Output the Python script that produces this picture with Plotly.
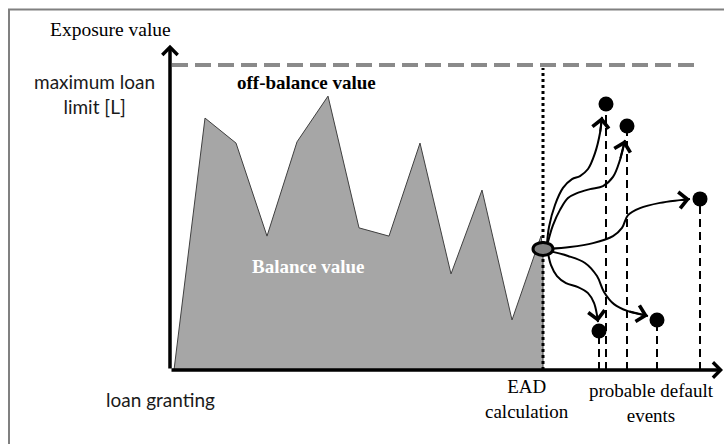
import plotly.graph_objects as go

# ---------------- data (time in arbitrary units, exposure in % of loan limit L) ----------------
balance_t = [0.4, 3.5, 6.6, 9.7, 12.7, 15.8, 18.9, 21.9, 25.0, 28.1, 31.2, 34.2, 37.1, 37.3, 37.3]
balance_v = [0, 82.6, 74.4, 43.9, 74.8, 89.8, 46.6, 43.9, 74.4, 31.5, 59.0, 16.4, 43.9, 39.3, 0]

limit_value = 100
limit_t = [0.2, 52.7]

ead_t = 37.3
ead_v = 39.7
ead_top = 99

event_t = [43.6, 45.7, 53.0, 42.9, 48.7]
event_v = [87.2, 80.0, 56.1, 12.8, 16.4]

path_a_t = [37.7, 37.9, 38.5, 39.3, 40.2, 41.0, 41.8, 42.5, 43.0, 43.2]
path_a_v = [41.3, 46.9, 54.1, 59.7, 62.6, 63.6, 65.9, 71.1, 77.7, 83.0]
path_b_t = [37.8, 38.3, 39.0, 39.8, 40.7, 42.0, 43.3, 44.3, 45.0, 45.5]
path_b_v = [42.0, 47.5, 52.5, 56.4, 58.0, 59.3, 60.3, 63.3, 68.9, 75.4]
path_c_t = [37.9, 40.0, 42.3, 44.3, 45.2, 45.8, 47.0, 49.0, 51.0, 52.0]
path_c_v = [39.7, 40.3, 41.6, 43.9, 46.6, 50.8, 53.1, 54.8, 55.7, 56.1]
path_d_t = [37.8, 38.1, 38.7, 39.6, 40.8, 41.8, 42.4, 42.7, 42.8]
path_d_v = [38.4, 34.4, 30.8, 28.5, 27.2, 25.2, 22.0, 18.0, 15.7]
path_e_t = [37.9, 39.8, 41.5, 42.7, 43.4, 44.4, 45.8, 47.8]
path_e_v = [39.0, 37.4, 35.1, 30.8, 25.6, 21.6, 19.3, 17.7]

paths = [(path_a_t, path_a_v), (path_b_t, path_b_v), (path_c_t, path_c_v),
         (path_d_t, path_d_v), (path_e_t, path_e_v)]

x_axis_end = 55.3
y_axis_end = 106.6

# ---------------- figure ----------------
fig = go.Figure()

# balance value area
fig.add_trace(go.Scatter(x=balance_t, y=balance_v, mode="lines", fill="toself",
                         fillcolor="#a6a6a6", line=dict(color="#404040", width=1),
                         hoverinfo="skip", showlegend=False))

# loan limit (off-balance) dashed line
fig.add_trace(go.Scatter(x=limit_t, y=[limit_value, limit_value], mode="lines",
                         line=dict(color="#8a8a8a", width=4, dash="16px,7px"),
                         hoverinfo="skip", showlegend=False))

# EAD dotted vertical
fig.add_trace(go.Scatter(x=[ead_t, ead_t], y=[0, ead_top], mode="lines",
                         line=dict(color="black", width=3, dash="dot"),
                         hoverinfo="skip", showlegend=False))

# dashed drops from default events
for t, v in zip(event_t, event_v):
    fig.add_trace(go.Scatter(x=[t, t], y=[0, v], mode="lines",
                             line=dict(color="black", width=2, dash="8px,5px"),
                             hoverinfo="skip", showlegend=False))

# curved paths
for pt, pv in paths:
    fig.add_trace(go.Scatter(x=pt, y=pv, mode="lines",
                             line=dict(color="black", width=2, shape="spline", smoothing=1),
                             hoverinfo="skip", showlegend=False))

# default event points
fig.add_trace(go.Scatter(x=event_t, y=event_v, mode="markers",
                         marker=dict(color="black", size=15),
                         hoverinfo="skip", showlegend=False))

annotations = []
# arrowheads of the curved paths
for pt, pv in paths:
    annotations.append(dict(x=pt[-1], y=pv[-1], ax=pt[-2], ay=pv[-2], axref="x", ayref="y",
                            xref="x", yref="y", text="", showarrow=True, arrowhead=4,
                            arrowwidth=2, arrowsize=1.6, arrowcolor="black"))
# axes with arrows
annotations.append(dict(x=0, y=y_axis_end, ax=0, ay=0, axref="x", ayref="y", xref="x", yref="y",
                        text="", showarrow=True, arrowhead=4, arrowwidth=3.5, arrowsize=0.85,
                        arrowcolor="black"))
annotations.append(dict(x=x_axis_end, y=0, ax=0, ay=0, axref="x", ayref="y", xref="x", yref="y",
                        text="", showarrow=True, arrowhead=4, arrowwidth=3.5, arrowsize=0.85,
                        arrowcolor="black"))

serif = "Liberation Serif, Times New Roman, serif"
sans = "Lato, Calibri, sans-serif"

def label(x, y, text, family, size, color="black", bold=False):
    if bold:
        text = "<b>" + text + "</b>"
    annotations.append(dict(x=x, y=y, xref="x", yref="y", text=text, showarrow=False,
                            xanchor="center", yanchor="middle", align="center",
                            font=dict(family=family, size=size, color=color)))

label(-6.0, 111.5, "Exposure value", serif, 19.5)
label(-7.6, 90.5, "maximum loan<br>limit [L]", sans, 19, color="#1a1a1a")
label(-1.0, -9.8, "loan granting", sans, 19, color="#1a1a1a")
label(13.6, 94.1, "off-balance value", serif, 19, bold=True)
label(13.8, 33.8, "Balance value", serif, 19, color="white", bold=True)
label(35.7, -9.5, "EAD<br>calculation", serif, 19)
label(48.1, -10.8, "probable default<br>events", serif, 19)

shapes = [
    dict(type="circle", xref="x", yref="y", xsizemode="pixel", ysizemode="pixel",
         xanchor=ead_t, yanchor=ead_v, x0=-10, x1=10, y0=-6.5, y1=6.5,
         fillcolor="#808080", line=dict(color="black", width=3), layer="above"),
    dict(type="rect", xref="paper", yref="paper", x0=9 / 724, x1=1.02, y0=-0.02, y1=1 - 9.5 / 444,
         line=dict(color="#808080", width=2), fillcolor="rgba(0,0,0,0)", layer="below"),
]

fig.update_layout(
    width=724, height=444,
    margin=dict(l=0, r=0, t=0, b=0),
    paper_bgcolor="white", plot_bgcolor="white",
    xaxis=dict(range=[-17, 55.4], visible=False, fixedrange=True),
    yaxis=dict(range=[-24.26, 121.31], visible=False, fixedrange=True),
    annotations=annotations,
    shapes=shapes,
    showlegend=False,
)

fig.write_html("out.html", config={"displayModeBar": False},
               post_script="document.body.style.margin='0px';document.body.style.overflow='hidden';")
